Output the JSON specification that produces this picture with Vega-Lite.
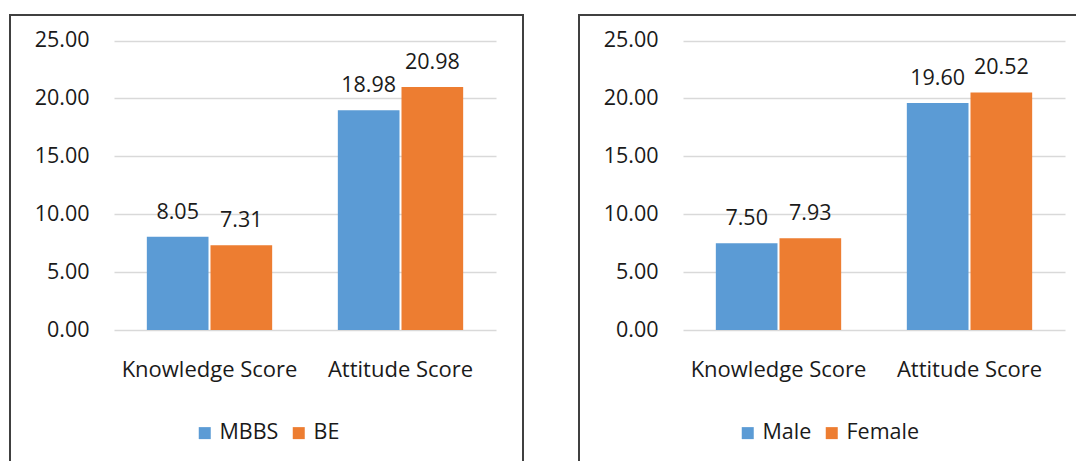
{
  "$schema": "https://vega.github.io/schema/vega-lite/v6.json",
  "padding": {"left": 9, "top": 14, "right": 0, "bottom": 0},
  "background": "white",
  "spacing": 54,
  "config": {
    "font": "Open Sans",
    "view": {"stroke": "#404040", "strokeWidth": 2},
    "axis": {"labelFont": "Open Sans", "labelFontSize": 21.5, "labelColor": "#1a1a1a", "domain": false, "ticks": false, "tickSize": 0, "title": null},
    "legend": {"labelFont": "Open Sans", "labelFontSize": 21.5, "labelColor": "#1a1a1a", "padding": 0}
  },
  "hconcat": [
    {
      "width": 513,
      "height": 447,
      "data": {"values": [
        {"score": "Knowledge Score", "group": "MBBS", "slot": "Knowledge Score|MBBS", "value": 8.05},
        {"score": "Knowledge Score", "group": "BE", "slot": "Knowledge Score|BE", "value": 7.31},
        {"score": "Attitude Score", "group": "MBBS", "slot": "Attitude Score|MBBS", "value": 18.98},
        {"score": "Attitude Score", "group": "BE", "slot": "Attitude Score|BE", "value": 20.98}
      ]},
      "encoding": {
        "x": {"field": "slot", "type": "nominal",
              "scale": {"type": "band", "domain": ["Knowledge Score|MBBS", "Knowledge Score|BE", " ", "Attitude Score|MBBS", "Attitude Score|BE"],
                        "range": [104, 486], "paddingInner": 0.0314, "paddingOuter": 0.5157},
              "axis": {"orient": "bottom", "offset": -132, "labelPadding": 29, "labelAngle": 0, "labelFontSize": 22, "grid": false,
                       "values": ["Knowledge Score|BE", "Attitude Score|BE"], "labelOffset": -31.8,
                       "labelExpr": "split(datum.value, '|')[0]"}},
        "y": {"field": "value", "type": "quantitative",
              "scale": {"domain": [0, 25], "range": [315, 25.5], "nice": false, "zero": true},
              "axis": {"values": [0, 5, 10, 15, 20, 25], "format": ".2f", "offset": -104, "labelPadding": 25, "grid": true, "gridColor": "#D9D9D9", "gridWidth": 1.5}}
      },
      "layer": [
        {
          "mark": {"type": "bar"},
          "encoding": {
            "color": {"field": "group", "type": "nominal",
                      "scale": {"domain": ["MBBS", "BE"], "range": ["#5B9BD5", "#ED7D31"]},
                      "legend": {"title": null, "orient": "none", "direction": "horizontal", "legendX": 184, "legendY": 407,
                                 "symbolType": "square", "symbolSize": 144, "symbolStrokeWidth": 0, "labelOffset": 4, "columnPadding": 9}}
          }
        },
        {
          "mark": {"type": "text", "baseline": "alphabetic", "dy": -18, "fontSize": 21.5, "color": "#1a1a1a", "font": "Open Sans"},
          "encoding": {"text": {"field": "value", "type": "quantitative", "format": ".2f"}}
        }
      ]
    },
    {
      "width": 500,
      "height": 447,
      "data": {"values": [
        {"score": "Knowledge Score", "group": "Male", "slot": "Knowledge Score|Male", "value": 7.5},
        {"score": "Knowledge Score", "group": "Female", "slot": "Knowledge Score|Female", "value": 7.93},
        {"score": "Attitude Score", "group": "Male", "slot": "Attitude Score|Male", "value": 19.6},
        {"score": "Attitude Score", "group": "Female", "slot": "Attitude Score|Female", "value": 20.52}
      ]},
      "encoding": {
        "x": {"field": "slot", "type": "nominal",
              "scale": {"type": "band", "domain": ["Knowledge Score|Male", "Knowledge Score|Female", " ", "Attitude Score|Male", "Attitude Score|Female"],
                        "range": [104, 486], "paddingInner": 0.0314, "paddingOuter": 0.5157},
              "axis": {"orient": "bottom", "offset": -132, "labelPadding": 29, "labelAngle": 0, "labelFontSize": 22, "grid": false,
                       "values": ["Knowledge Score|Female", "Attitude Score|Female"], "labelOffset": -31.8,
                       "labelExpr": "split(datum.value, '|')[0]"}},
        "y": {"field": "value", "type": "quantitative",
              "scale": {"domain": [0, 25], "range": [315, 25.5], "nice": false, "zero": true},
              "axis": {"values": [0, 5, 10, 15, 20, 25], "format": ".2f", "offset": -104, "labelPadding": 25, "grid": true, "gridColor": "#D9D9D9", "gridWidth": 1.5}}
      },
      "layer": [
        {
          "mark": {"type": "bar"},
          "encoding": {
            "color": {"field": "group", "type": "nominal",
                      "scale": {"domain": ["Male", "Female"], "range": ["#5B9BD5", "#ED7D31"]},
                      "legend": {"title": null, "orient": "none", "direction": "horizontal", "legendX": 158, "legendY": 407,
                                 "symbolType": "square", "symbolSize": 144, "symbolStrokeWidth": 0, "labelOffset": 4, "columnPadding": 9}}
          }
        },
        {
          "mark": {"type": "text", "baseline": "alphabetic", "dy": -18, "fontSize": 21.5, "color": "#1a1a1a", "font": "Open Sans"},
          "encoding": {"text": {"field": "value", "type": "quantitative", "format": ".2f"}}
        }
      ]
    }
  ],
  "resolve": {"scale": {"color": "independent"}}
}
